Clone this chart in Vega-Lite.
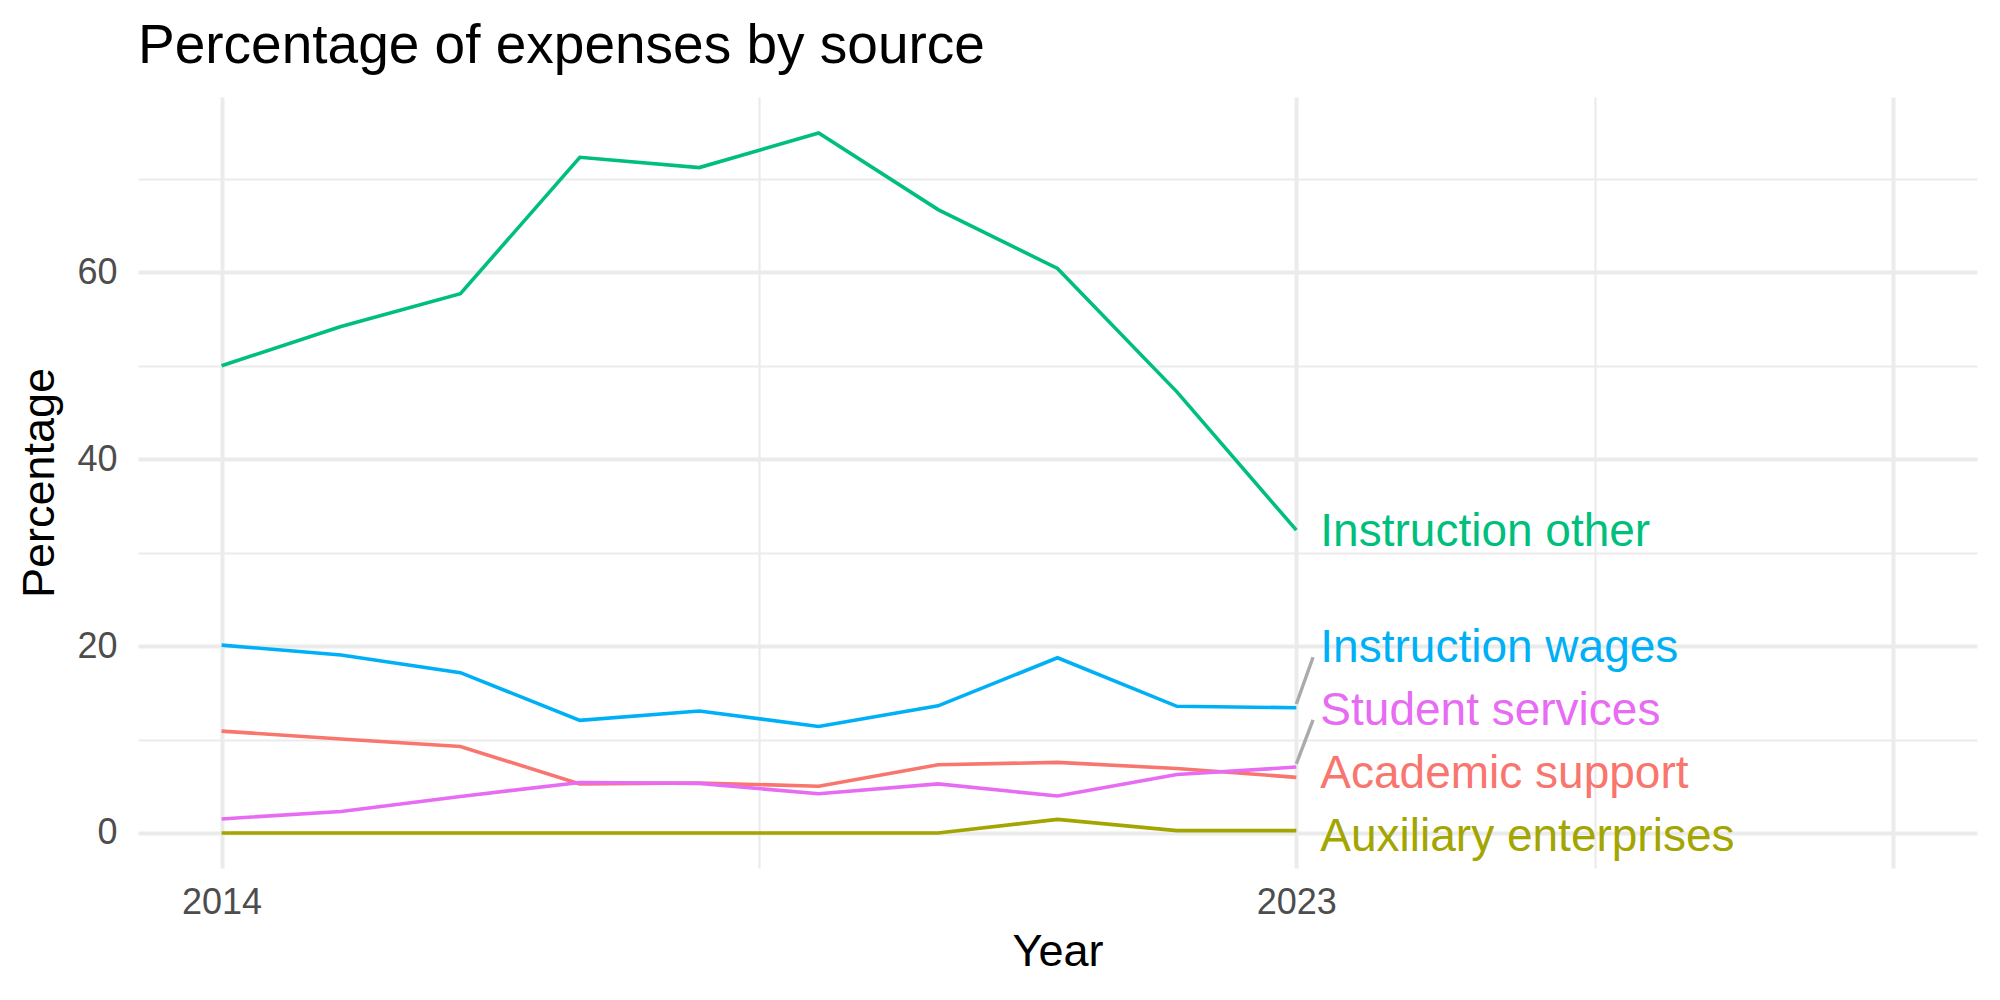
{
  "$schema": "https://vega.github.io/schema/vega-lite/v6.json",
  "autosize": "none",
  "width": 1839,
  "height": 771,
  "padding": {"left": 138, "top": 97, "right": 23, "bottom": 132},
  "background": "white",
  "title": {
    "text": "Percentage of expenses by source",
    "anchor": "start",
    "frame": "group",
    "fontSize": 55,
    "font": "Liberation Sans",
    "fontWeight": "normal",
    "color": "#000000",
    "offset": 22
  },
  "config": {
    "view": {"stroke": null},
    "font": "Liberation Sans",
    "axis": {
      "domain": false,
      "ticks": false,
      "tickSize": 0,
      "gridColor": "#EBEBEB",
      "labelColor": "#4D4D4D",
      "labelFont": "Liberation Sans",
      "labelFontSize": 36,
      "titleFont": "Liberation Sans",
      "titleFontSize": 45,
      "titleFontWeight": "normal",
      "titleColor": "#000000"
    }
  },
  "datasets": {
    "expenses": [
      {"year": 2014, "series": "Academic support", "pct": 10.9},
      {"year": 2015, "series": "Academic support", "pct": 10.05},
      {"year": 2016, "series": "Academic support", "pct": 9.25},
      {"year": 2017, "series": "Academic support", "pct": 5.25},
      {"year": 2018, "series": "Academic support", "pct": 5.35},
      {"year": 2019, "series": "Academic support", "pct": 5.0},
      {"year": 2020, "series": "Academic support", "pct": 7.3},
      {"year": 2021, "series": "Academic support", "pct": 7.55},
      {"year": 2022, "series": "Academic support", "pct": 6.9},
      {"year": 2023, "series": "Academic support", "pct": 5.95},
      {"year": 2014, "series": "Auxiliary enterprises", "pct": 0},
      {"year": 2015, "series": "Auxiliary enterprises", "pct": 0},
      {"year": 2016, "series": "Auxiliary enterprises", "pct": 0},
      {"year": 2017, "series": "Auxiliary enterprises", "pct": 0},
      {"year": 2018, "series": "Auxiliary enterprises", "pct": 0},
      {"year": 2019, "series": "Auxiliary enterprises", "pct": 0},
      {"year": 2020, "series": "Auxiliary enterprises", "pct": 0},
      {"year": 2021, "series": "Auxiliary enterprises", "pct": 1.45},
      {"year": 2022, "series": "Auxiliary enterprises", "pct": 0.25},
      {"year": 2023, "series": "Auxiliary enterprises", "pct": 0.25},
      {"year": 2014, "series": "Instruction other", "pct": 50.0},
      {"year": 2015, "series": "Instruction other", "pct": 54.2},
      {"year": 2016, "series": "Instruction other", "pct": 57.7},
      {"year": 2017, "series": "Instruction other", "pct": 72.3},
      {"year": 2018, "series": "Instruction other", "pct": 71.2},
      {"year": 2019, "series": "Instruction other", "pct": 74.9},
      {"year": 2020, "series": "Instruction other", "pct": 66.7},
      {"year": 2021, "series": "Instruction other", "pct": 60.4},
      {"year": 2022, "series": "Instruction other", "pct": 47.2},
      {"year": 2023, "series": "Instruction other", "pct": 32.4},
      {"year": 2014, "series": "Instruction wages", "pct": 20.1},
      {"year": 2015, "series": "Instruction wages", "pct": 19.05},
      {"year": 2016, "series": "Instruction wages", "pct": 17.15},
      {"year": 2017, "series": "Instruction wages", "pct": 12.05},
      {"year": 2018, "series": "Instruction wages", "pct": 13.05},
      {"year": 2019, "series": "Instruction wages", "pct": 11.4},
      {"year": 2020, "series": "Instruction wages", "pct": 13.6},
      {"year": 2021, "series": "Instruction wages", "pct": 18.75},
      {"year": 2022, "series": "Instruction wages", "pct": 13.55},
      {"year": 2023, "series": "Instruction wages", "pct": 13.4},
      {"year": 2014, "series": "Student services", "pct": 1.5},
      {"year": 2015, "series": "Student services", "pct": 2.3},
      {"year": 2016, "series": "Student services", "pct": 3.9},
      {"year": 2017, "series": "Student services", "pct": 5.4},
      {"year": 2018, "series": "Student services", "pct": 5.3},
      {"year": 2019, "series": "Student services", "pct": 4.2},
      {"year": 2020, "series": "Student services", "pct": 5.25},
      {"year": 2021, "series": "Student services", "pct": 3.95},
      {"year": 2022, "series": "Student services", "pct": 6.25},
      {"year": 2023, "series": "Student services", "pct": 7.05}
    ],
    "labels": [
      {"series": "Instruction other", "year": 2023, "label_pct": 32.2},
      {"series": "Instruction wages", "year": 2023, "label_pct": 19.8},
      {"series": "Student services", "year": 2023, "label_pct": 13.05},
      {"series": "Academic support", "year": 2023, "label_pct": 6.3},
      {"series": "Auxiliary enterprises", "year": 2023, "label_pct": -0.4}
    ],
    "leaders": [
      {"series": "Instruction wages", "year": 2023, "year_end": 2023.14, "pct_start": 13.8, "pct_end": 18.8},
      {"series": "Student services", "year": 2023, "year_end": 2023.14, "pct_start": 7.4, "pct_end": 12.1}
    ]
  },
  "layer": [
    {
      "data": {"name": "expenses"},
      "mark": {"type": "line", "strokeWidth": 3.6},
      "encoding": {
        "x": {
          "field": "year",
          "type": "quantitative",
          "scale": {"domain": [2013.3, 2028.7], "nice": false, "zero": false},
          "axis": {
            "title": "Year",
            "values": [2014, 2018.5, 2023, 2025.5, 2028],
            "format": "d",
            "labelExpr": "datum.value == 2014 || datum.value == 2023 ? datum.label : ''",
            "labelPadding": 17,
            "titlePadding": 9,
            "gridWidth": {"condition": {"test": "datum.value == 2018.5 || datum.value == 2025.5", "value": 2.2}, "value": 4}
          }
        },
        "y": {
          "field": "pct",
          "type": "quantitative",
          "scale": {"domain": [-3.75, 78.75], "nice": false, "zero": false},
          "axis": {
            "title": "Percentage",
            "values": [0, 10, 20, 30, 40, 50, 60, 70],
            "labelExpr": "datum.value % 20 == 0 ? datum.label : ''",
            "labelPadding": 21,
            "titlePadding": 14,
            "gridWidth": {"condition": {"test": "datum.value % 20 != 0", "value": 2.2}, "value": 4}
          }
        },
        "color": {
          "field": "series",
          "type": "nominal",
          "scale": {
            "domain": ["Academic support", "Auxiliary enterprises", "Instruction other", "Instruction wages", "Student services"],
            "range": ["#F8766D", "#A3A500", "#00BF7D", "#00B0F6", "#E76BF3"]
          },
          "legend": null
        }
      }
    },
    {
      "data": {"name": "leaders"},
      "mark": {"type": "rule", "color": "#AAAAAA", "strokeWidth": 3.4},
      "encoding": {
        "x": {"field": "year", "type": "quantitative"},
        "x2": {"field": "year_end"},
        "y": {"field": "pct_start", "type": "quantitative"},
        "y2": {"field": "pct_end"}
      }
    },
    {
      "data": {"name": "labels"},
      "mark": {"type": "text", "align": "left", "baseline": "middle", "dx": 24, "fontSize": 46, "font": "Liberation Sans"},
      "encoding": {
        "x": {"field": "year", "type": "quantitative"},
        "y": {"field": "label_pct", "type": "quantitative"},
        "text": {"field": "series"},
        "color": {"field": "series", "type": "nominal", "legend": null}
      }
    }
  ]
}
